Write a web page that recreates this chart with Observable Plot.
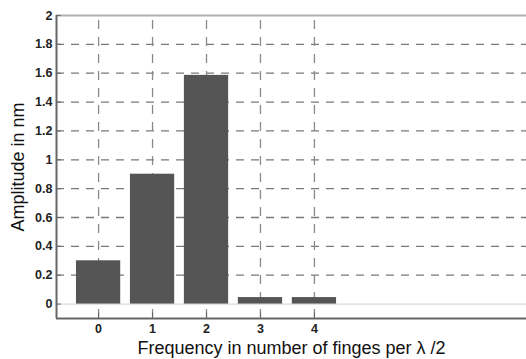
<!DOCTYPE html>
<html><head><meta charset="utf-8">
<script src="https://cdn.jsdelivr.net/npm/d3@7"></script>
<script src="https://cdn.jsdelivr.net/npm/@observablehq/plot@0.6"></script>
<style>body{margin:0;background:#fff}svg{display:block}</style>
</head><body><div id="chart"></div>
<script>
const frequencies = [0, 1, 2, 3, 4];
const amplitudes = [0.30, 0.90, 1.585, 0.045, 0.045];
const yTicks = [0, 0.2, 0.4, 0.6, 0.8, 1, 1.2, 1.4, 1.6, 1.8, 2];
const xTicks = [0, 1, 2, 3, 4];
const xTitle = "Frequency in number of finges per λ /2";
const yTitle = "Amplitude in nm";

const data = frequencies.map((f, i) => ({f, a: amplitudes[i]}));
const xMin = -0.78, xMax = 7.93, yMin = -0.1, yMax = 2;
const bw = 0.41;
const fmt = d => String(+d.toFixed(1));

const chart = Plot.plot({
  width: 526, height: 359,
  marginLeft: 56, marginRight: 0, marginTop: 15, marginBottom: 41,
  x: {type: "linear", domain: [xMin, xMax], axis: null},
  y: {domain: [yMin, yMax], axis: null},
  style: {fontFamily: "Liberation Sans, Arial, sans-serif", background: "#fff"},
  marks: [
    Plot.ruleY(yTicks.filter(v => v > 0 && v < 2), {x1: xMin, x2: xMax, stroke: "#7a7a7a", strokeWidth: 1.3, strokeDasharray: "8,7"}),
    Plot.ruleX(xTicks, {y1: yMin, y2: yMax, stroke: "#8a8a8a", strokeWidth: 1.3, strokeDasharray: "9,8"}),
    Plot.ruleY([0], {x1: xMin, x2: xMax, stroke: "#d8d8d8", strokeWidth: 1.2}),
    Plot.rectY(data, {x1: d => d.f - bw, x2: d => d.f + bw, y1: 0, y2: "a", fill: "#555555"}),
    Plot.ruleY([yMax], {x1: xMin, x2: xMax, stroke: "#b0b0b0", strokeWidth: 2}),
    Plot.ruleX([xMin], {y1: yMin, y2: yMax, stroke: "#666", strokeWidth: 2}),
    Plot.ruleY([yMin], {x1: xMin, x2: xMax, stroke: "#666", strokeWidth: 2}),
    Plot.ruleY(yTicks, {x1: xMin, x2: xMin + 0.09, stroke: "#666", strokeWidth: 1}),
    Plot.ruleX(xTicks, {y1: yMin, y2: yMin + 0.04, stroke: "#666", strokeWidth: 1}),
    Plot.text(yTicks, {x: xMin, y: d => d, text: fmt, textAnchor: "end", dx: -4, fontSize: 12.5, fontWeight: "bold", fill: "#222"}),
    Plot.text(xTicks, {x: d => d, y: yMin, text: d => String(d), dy: 10.5, fontSize: 12.5, fontWeight: "bold", fill: "#222"}),
    Plot.text([xTitle], {x: (xMin + xMax) / 2, y: yMin, dy: 30, fontSize: 18, fill: "#111", text: d => d}),
    Plot.text([yTitle], {frameAnchor: "left", textAnchor: "middle", dx: -38, rotate: -90, fontSize: 18, fill: "#111", text: d => d})
  ]
});
document.getElementById("chart").append(chart);
</script>
</body></html>
